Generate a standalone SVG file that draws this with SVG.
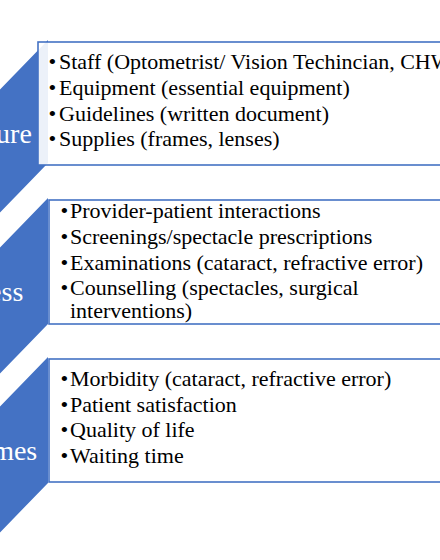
<svg xmlns="http://www.w3.org/2000/svg" width="440" height="560" viewBox="0 0 440 560">
<style>
.chev{fill:#4472C4}
.lbl{font-family:"Liberation Serif","Times New Roman",serif;font-size:28px;fill:#ffffff;text-anchor:middle}
.box{fill:#ffffff;fill-opacity:0.9;stroke:#4472C4;stroke-width:1.6}
.item{font-family:"Liberation Serif","Times New Roman",serif;font-size:22px;fill:#000000}
</style>
<rect width="440" height="560" fill="#ffffff"/>
<g id="structure">
<polygon class="chev" points="-88,40 -20,110 48,40 48,163 -20,233 -88,163"/>
<text class="lbl" x="-19.5" y="143">Structure</text>
</g>
<g id="structure-list">
<rect class="box" x="38" y="42" width="420" height="123"/>
<text class="item" y="69"><tspan x="48.5">•</tspan><tspan x="59">Staff (Optometrist/ Vision Techincian, CHW</tspan></text>
<text class="item" y="95"><tspan x="48.5">•</tspan><tspan x="59">Equipment (essential equipment)</tspan></text>
<text class="item" y="121"><tspan x="48.5">•</tspan><tspan x="59">Guidelines (written document)</tspan></text>
<text class="item" y="146"><tspan x="48.5">•</tspan><tspan x="59">Supplies (frames, lenses)</tspan></text>
</g>
<g id="process">
<polygon class="chev" points="-88,198 -20,268 48,198 48,324 -20,394 -88,324"/>
<text class="lbl" x="-19.5" y="301">Process</text>
</g>
<g id="process-list">
<rect class="box" x="49" y="200" width="420" height="124"/>
<text class="item" y="218"><tspan x="60.5">•</tspan><tspan x="70">Provider-patient interactions</tspan></text>
<text class="item" y="244"><tspan x="60.5">•</tspan><tspan x="70">Screenings/spectacle prescriptions</tspan></text>
<text class="item" y="270"><tspan x="60.5">•</tspan><tspan x="70">Examinations (cataract, refractive error)</tspan></text>
<text class="item" y="295"><tspan x="60.5">•</tspan><tspan x="70">Counselling (spectacles, surgical</tspan></text>
<text class="item" y="318"><tspan x="70">interventions)</tspan></text>
</g>
<g id="outcomes">
<polygon class="chev" points="-88,357 -20,427 48,357 48,483 -20,553 -88,483"/>
<text class="lbl" x="-19.5" y="460">Outcomes</text>
</g>
<g id="outcomes-list">
<rect class="box" x="49" y="359" width="420" height="123"/>
<text class="item" y="386"><tspan x="60.5">•</tspan><tspan x="70">Morbidity (cataract, refractive error)</tspan></text>
<text class="item" y="412"><tspan x="60.5">•</tspan><tspan x="70">Patient satisfaction</tspan></text>
<text class="item" y="437"><tspan x="60.5">•</tspan><tspan x="70">Quality of life</tspan></text>
<text class="item" y="463"><tspan x="60.5">•</tspan><tspan x="70">Waiting time</tspan></text>
</g>
<g id="connectors"></g>
</svg>
